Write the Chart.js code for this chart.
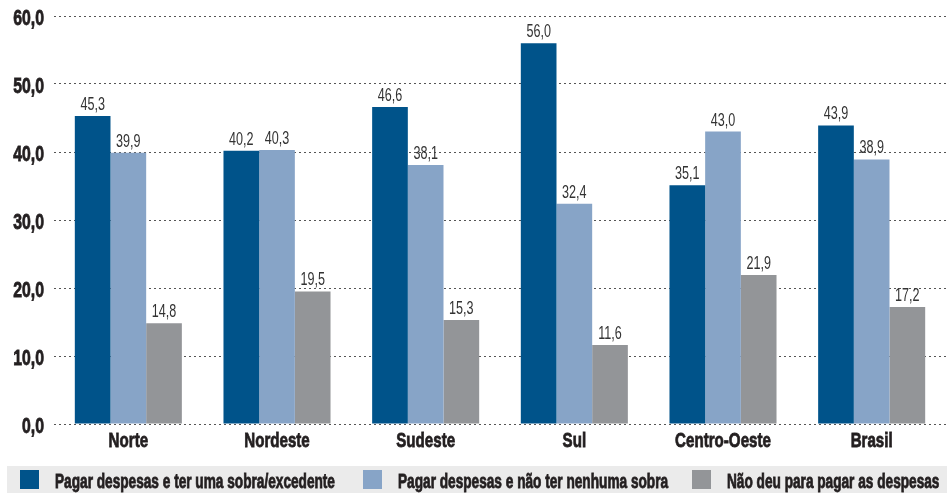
<!DOCTYPE html>
<html>
<head>
<meta charset="utf-8">
<script src="https://cdn.jsdelivr.net/npm/chart.js@4.4.1/dist/chart.umd.min.js"></script>
<style>
  html, body { margin: 0; padding: 0; background: #fff; }
  #wrap { width: 947px; height: 493px; position: relative; }
</style>
</head>
<body>
<div id="wrap"><canvas id="chart"></canvas></div>
<script>
const regions = ['Norte', 'Nordeste', 'Sudeste', 'Sul', 'Centro-Oeste', 'Brasil'];
const comSobra = [45.3, 40.2, 46.6, 56.0, 35.1, 43.9];
const semSobra = [39.9, 40.3, 38.1, 32.4, 43.0, 38.9];
const naoDeu = [14.8, 19.5, 15.3, 11.6, 21.9, 17.2];
const seriesNames = [
    'Pagar despesas e ter uma sobra/excedente',
    'Pagar despesas e não ter nenhuma sobra',
    'Não deu para pagar as despesas'
];
const yTicks = [0, 10, 20, 30, 40, 50, 60];

const FONT = '"Liberation Sans", Arial, sans-serif';
const SQUEEZE = 0.72; // the original uses a condensed gothic face
const colors = ['#00538a', '#87a4c7', '#939598'];
const textColor = '#231f20';
const legendStarts = [20, 363, 692];

const fmt = v => v.toFixed(1).replace('.', ',');

// draw text squeezed horizontally, anchored at x (heavy = add a thin outline)
function squeezed(ctx, text, x, y, align, sq = SQUEEZE, heavy = false) {
    ctx.save();
    ctx.translate(x, y);
    ctx.scale(sq, 1);
    ctx.textAlign = align;
    ctx.fillText(text, 0, 0);
    if (heavy) {
        ctx.strokeStyle = ctx.fillStyle;
        ctx.lineWidth = 0.8;
        ctx.strokeText(text, 0, 0);
    }
    ctx.restore();
}

// axis labels, value labels and legend, all in the condensed look
const textPlugin = {
    id: 'textPlugin',
    afterDraw(chart) {
        const ctx = chart.ctx;
        const xs = chart.scales.x;
        const ys = chart.scales.y;
        ctx.save();
        ctx.fillStyle = textColor;
        ctx.textBaseline = 'middle';

        // y tick labels
        ctx.font = 'bold 22px ' + FONT;
        ys.ticks.forEach(t => {
            squeezed(ctx, fmt(t.value), 44, ys.getPixelForValue(t.value) + 3, 'right', SQUEEZE, true);
        });

        // x tick labels
        ctx.font = 'bold 21px ' + FONT;
        regions.forEach((r, i) => {
            squeezed(ctx, r, xs.getPixelForTick(i), 441, 'center', SQUEEZE, true);
        });

        // values above bars
        ctx.font = '17.5px ' + FONT;
        ctx.fillStyle = '#333333';
        ctx.textBaseline = 'alphabetic';
        chart.data.datasets.forEach((ds, i) => {
            chart.getDatasetMeta(i).data.forEach((bar, j) => {
                squeezed(ctx, fmt(ds.data[j]), bar.x, bar.y - 6, 'center');
            });
        });

        // legend strip
        const top = 466;
        ctx.fillStyle = '#ebebeb';
        ctx.fillRect(7, top, chart.width - 7, chart.height - top);
        ctx.font = 'bold 19.5px ' + FONT;
        chart.data.datasets.forEach((ds, i) => {
            const x = legendStarts[i];
            ctx.fillStyle = ds.backgroundColor;
            ctx.fillRect(x, top + 4, 19, 19);
            ctx.fillStyle = textColor;
            squeezed(ctx, ds.label, x + 35, top + 22, 'left', 0.7, true);
        });
        ctx.restore();
    }
};

new Chart(document.getElementById('chart'), {
    type: 'bar',
    data: {
        labels: regions,
        datasets: [
            { label: seriesNames[0], data: comSobra, backgroundColor: colors[0] },
            { label: seriesNames[1], data: semSobra, backgroundColor: colors[1] },
            { label: seriesNames[2], data: naoDeu, backgroundColor: colors[2] }
        ]
    },
    options: {
        responsive: true,
        maintainAspectRatio: false,
        animation: false,
        layout: { padding: { top: 16, right: 1, bottom: 0, left: 0 } },
        plugins: {
            legend: { display: false },
            tooltip: { enabled: false }
        },
        datasets: {
            bar: { categoryPercentage: 0.72, barPercentage: 1.0 }
        },
        scales: {
            x: {
                grid: { display: false },
                border: { display: false },
                ticks: { display: false },
                afterFit(scale) { scale.height = 69; }
            },
            y: {
                min: 0,
                max: 60,
                afterBuildTicks(scale) { scale.ticks = yTicks.map(v => ({ value: v })); },
                border: { display: false, dash: [2, 3] },
                grid: {
                    color: '#555555',
                    lineWidth: 1,
                    drawTicks: false
                },
                ticks: { display: false },
                afterFit(scale) { scale.width = 54; }
            }
        }
    },
    plugins: [textPlugin]
});
</script>
</body>
</html>
